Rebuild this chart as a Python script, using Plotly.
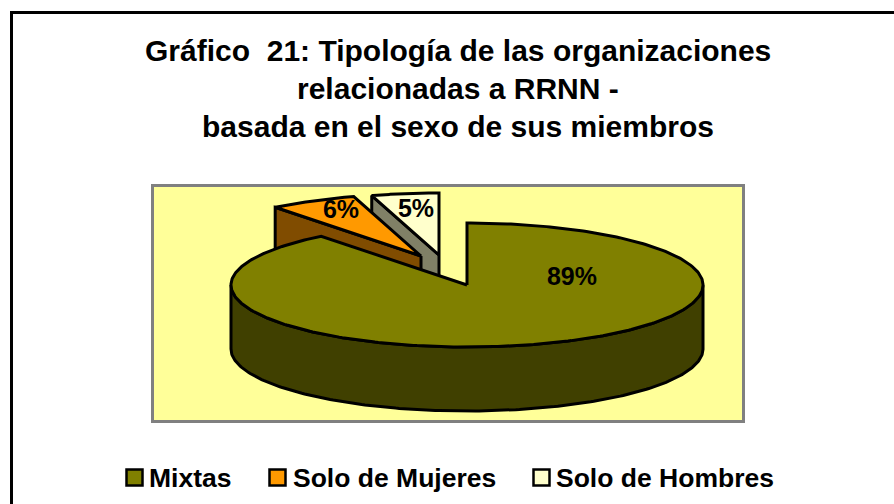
import numpy as np
import plotly.graph_objects as go

# --- data (slice angles give the decimals, labels round them) ---
categories = ["Mixtas", "Solo de Mujeres", "Solo de Hombres"]
percent = [89.4, 6.0, 4.6]
top_colors = ["#808000", "#FF9900", "#FFFFCC"]
side_colors = ["#404000", "#804C00", "#808066"]
title_lines = ["Gráfico  21: Tipología de las organizaciones",
               "relacionadas a RRNN -",
               "basada en el sexo de sus miembros"]

# --- pie geometry (axis units equal page pixels) ---
centres_x = [467, 421, 439]
centres_y = [285, 256, 255]
RX, RY, DEPTH = 236, 62, 64
label_x = [572, 341, 416]
label_y = [279, 212, 211]

W, H = 894, 504
L, R, T, B = 154, 742, 187, 420
swatch_x = [126.5, 269.5, 533.5]
legend_text_x = [147, 291, 554]
title_y = [50, 89, 127]
legend_y = 478


def px(x):
    return (x - L) / (R - L)


def py(y):
    return (B - y) / (B - T)


fig = go.Figure()


def poly(x, y, color, name):
    fig.add_trace(go.Scatter(x=list(x), y=list(y), mode="lines", fill="toself",
                             fillcolor=color, line=dict(color="black", width=3),
                             showlegend=False, hoverinfo="text", text=name))


edges = np.cumsum([0] + percent) * 3.6
for i in [2, 1, 0]:
    a0, a1 = edges[i], edges[i + 1]
    cx, cy = centres_x[i], centres_y[i]
    t = np.radians(np.linspace(a0, a1, 361))
    ex = cx + RX * np.sin(t)
    ey = cy - RY * np.cos(t)
    if np.sin(np.radians(a0)) < 0:
        poly([cx, ex[0], ex[0], cx, cx], [cy, ey[0], ey[0] + DEPTH, cy + DEPTH, cy],
             side_colors[i], categories[i])
    if np.sin(np.radians(a1)) > 1e-9:
        poly([cx, ex[-1], ex[-1], cx, cx], [cy, ey[-1], ey[-1] + DEPTH, cy + DEPTH, cy],
             side_colors[i], categories[i])
    front = (np.degrees(t) >= 90) & (np.degrees(t) <= 270)
    if front.any():
        fx, fy = ex[front], ey[front]
        poly(np.r_[fx, fx[::-1], fx[0]], np.r_[fy, fy[::-1] + DEPTH, fy[0]],
             side_colors[i], categories[i])
    poly(np.r_[cx, ex, cx], np.r_[cy, ey, cy], top_colors[i], categories[i])

BOLD = dict(family="Liberation Sans", color="black", weight="bold")
fig.add_trace(go.Scatter(x=label_x, y=label_y, mode="text",
                         text=[f"{round(v)}%" for v in percent],
                         textfont=dict(size=25, **BOLD),
                         showlegend=False, hoverinfo="skip"))

for line, yy in zip(title_lines, title_y):
    fig.add_annotation(text=line, xref="paper", yref="paper", showarrow=False,
                       x=px(458), y=py(yy), xanchor="center", yanchor="middle",
                       font=dict(size=30, **BOLD))

shapes = [dict(type="rect", xref="paper", yref="paper", layer="below",
               x0=px(11.5), x1=px(930), y0=py(560), y1=py(12.5),
               line=dict(color="black", width=3))]
for name, col, sx, tx in zip(categories, top_colors, swatch_x, legend_text_x):
    shapes.append(dict(type="rect", xref="paper", yref="paper",
                       x0=px(sx), x1=px(sx + 16), y0=py(485.5), y1=py(469.5),
                       fillcolor=col, line=dict(color="black", width=2.5)))
    fig.add_annotation(text=name, xref="paper", yref="paper", showarrow=False,
                       x=px(tx), y=py(legend_y), xanchor="left", yanchor="middle",
                       font=dict(size=26.5, **BOLD))

ax = dict(showgrid=False, zeroline=False, showticklabels=False, ticks="",
          showline=True, mirror=True, linecolor="#808080", linewidth=3, fixedrange=True)
fig.update_layout(
    width=W, height=H, autosize=False, showlegend=False,
    margin=dict(l=L, r=W - R, t=T, b=H - B, pad=0),
    paper_bgcolor="white", plot_bgcolor="#FFFF99",
    xaxis=dict(range=[L, R], **ax),
    yaxis=dict(range=[B, T], **ax),
    shapes=shapes,
)
fig.write_html("out.html", config={"displayModeBar": False},
               post_script="document.body.style.margin='0';")
